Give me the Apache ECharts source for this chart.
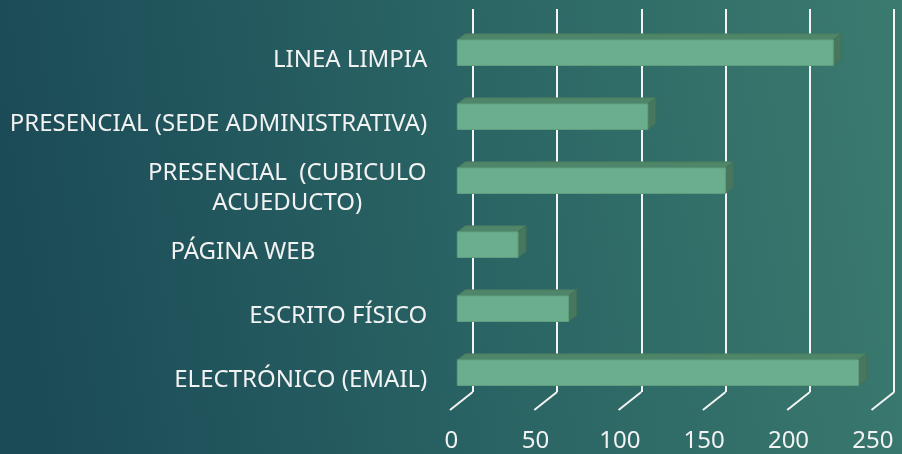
<!DOCTYPE html>
<html>
<head>
<meta charset="utf-8">
<script src="https://cdn.jsdelivr.net/npm/echarts@6/dist/echarts.min.js"></script>
<style>
  html, body { margin: 0; padding: 0; }
  #chart { width: 902px; height: 454px; }
</style>
</head>
<body>
<div id="chart"></div>
<script>
// datos
var categorias = ['LINEA LIMPIA', 'PRESENCIAL (SEDE ADMINISTRATIVA)', 'PRESENCIAL  (CUBICULO\nACUEDUCTO)', 'PÁGINA WEB', 'ESCRITO FÍSICO', 'ELECTRÓNICO (EMAIL)'];
var valores = [223, 113, 159, 36, 66, 238];
var ticksX = [0, 50, 100, 150, 200, 250];

var chart = echarts.init(document.getElementById('chart'));

var fuente = 'Noto Sans';
var dx = 8, dy = -6; // profundidad 3D

function barra3d(params, api) {
    var v = api.value(0);
    var c = api.value(1);
    var p0 = api.coord([0, c]);
    var p1 = api.coord([v, c]);
    var h = api.size([0, 1])[1] * 0.4;
    var x0 = p0[0], x1 = p1[0], y0 = p0[1] - h / 2, y1 = p0[1] + h / 2;
    return {
        type: 'group',
        children: [
            { type: 'polygon', shape: { points: [[x0, y0], [x0 + dx, y0 + dy], [x1 + dx, y0 + dy], [x1, y0]] },
              style: { fill: '#4f8568', stroke: '#4a7d62', lineWidth: 1 } },
            { type: 'polygon', shape: { points: [[x1, y0], [x1 + dx, y0 + dy], [x1 + dx, y1 + dy], [x1, y1]] },
              style: { fill: '#47775d', stroke: '#43705a', lineWidth: 1 } },
            { type: 'rect', shape: { x: x0, y: y0, width: x1 - x0, height: h },
              style: { fill: '#6aae8e', stroke: '#5f9f80', lineWidth: 1 } }
        ]
    };
}

function suelo(params, api) {
    var p = api.coord([api.value(0), 0]);
    return {
        type: 'line',
        shape: { x1: p[0], y1: p[1], x2: p[0] - 22.7, y2: p[1] + 18 },
        style: { stroke: '#f4f4f4', lineWidth: 2 }
    };
}

var option = {
    backgroundColor: {
        type: 'linear', x: 0, y: 0.3, x2: 1, y2: 0,
        colorStops: [
            { offset: 0, color: '#1b4b57' },
            { offset: 0.5, color: '#2a6464' },
            { offset: 1, color: '#3b7b6f' }
        ]
    },
    grid: [
        { left: 457.3, right: 23.2, top: 20.7, bottom: 49.3 },
        { left: 472.7, right: 7.8, top: 9, bottom: 62 }
    ],
    xAxis: [
        {
            gridIndex: 0, type: 'value', min: 0, max: 250, interval: 50,
            axisLine: { show: false }, axisTick: { show: false }, splitLine: { show: false },
            axisLabel: { color: '#f2f2f2', fontFamily: fuente, fontSize: 24, margin: 24, padding: [0, 12, 0, 0] }
        },
        {
            gridIndex: 1, type: 'value', min: 0, max: 250, interval: 50,
            axisLine: { show: false }, axisTick: { show: false }, axisLabel: { show: false },
            splitLine: { show: true, lineStyle: { color: '#f4f4f4', width: 2 } }
        }
    ],
    yAxis: [
        {
            gridIndex: 0, type: 'category', inverse: true, data: categorias,
            axisLine: { show: false }, axisTick: { show: false },
            axisLabel: {
                color: '#f2f2f2', fontFamily: fuente, fontSize: 24, margin: 30,
                padding: [14, 0, 0, 0], lineHeight: 30,
                formatter: function (v) {
                    if (v.indexOf('\n') >= 0) {
                        return v.split('\n').map(function (s) { return '{c|' + s + '}'; }).join('\n');
                    }
                    if (v === 'PÁGINA WEB') {
                        return '{w|' + v + '}';
                    }
                    return v;
                },
                rich: {
                    c: { color: '#f2f2f2', fontFamily: fuente, fontSize: 24, lineHeight: 30, width: 280, align: 'center' },
                    w: { color: '#f2f2f2', fontFamily: fuente, fontSize: 24, lineHeight: 30, padding: [0, 112, 0, 0] }
                }
            }
        },
        {
            gridIndex: 1, type: 'value', min: 0, max: 1, show: false
        }
    ],
    series: [
        {
            type: 'custom', xAxisIndex: 1, yAxisIndex: 1, z: 1,
            renderItem: suelo,
            data: ticksX.map(function (t) { return [t]; }),
            silent: true
        },
        {
            type: 'custom', xAxisIndex: 0, yAxisIndex: 0, z: 2,
            renderItem: barra3d,
            encode: { x: 0, y: 1 },
            data: valores.map(function (v, i) { return [v, i]; })
        }
    ]
};
chart.setOption(option);
</script>
</body>
</html>
